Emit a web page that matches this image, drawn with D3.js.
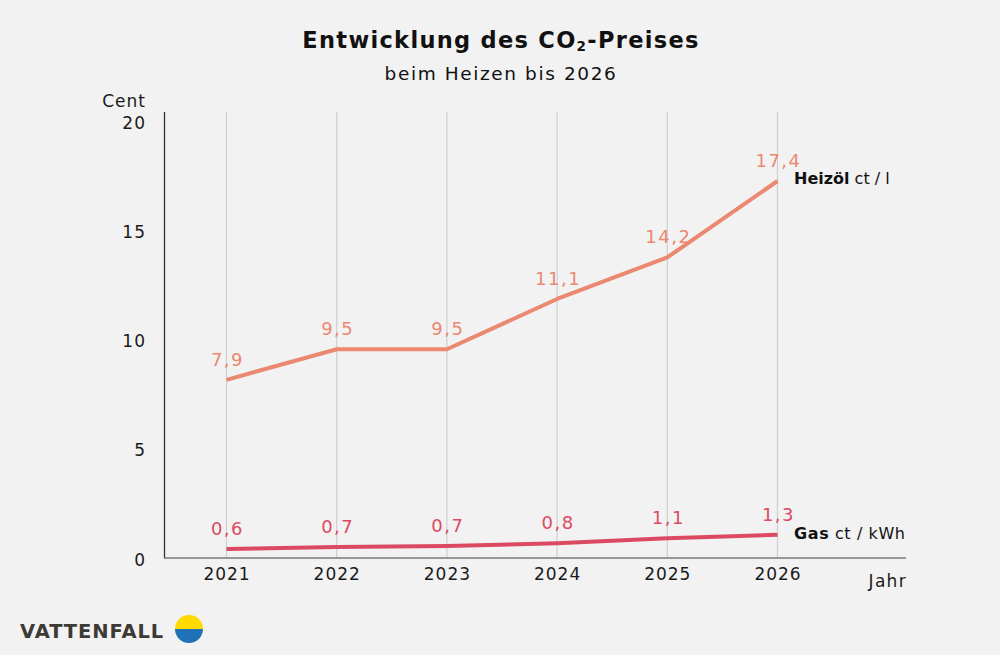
<!DOCTYPE html>
<html><head><meta charset="utf-8">
<script src="https://cdn.jsdelivr.net/npm/d3@7/dist/d3.min.js"></script>
<style>body{margin:0;background:#f2f2f2}svg{display:block}text{font-family:"DejaVu Sans",sans-serif}</style>
</head><body><svg id="c" width="1000" height="655"></svg>
<script>
const years = ["2021","2022","2023","2024","2025","2026"];
const heizoelValues = [8.2, 9.6, 9.6, 11.9, 13.8, 17.3];
const heizoelLabels = ["7,9","9,5","9,5","11,1","14,2","17,4"];
const gasValues = [0.46, 0.55, 0.6, 0.72, 0.95, 1.11];
const gasLabels = ["0,6","0,7","0,7","0,8","1,1","1,3"];
const yTicks = [0,5,10,15,20];

const FONT = "'DejaVu Sans',sans-serif";
const svg = d3.select("#c");
svg.append("rect").attr("width",1000).attr("height",655).attr("fill","#f2f2f2");

const x = d3.scalePoint().domain(years).range([226.5, 777.5]);
const y = d3.scaleLinear().domain([0,20]).range([559,122]);

// grid
svg.append("g").selectAll("line").data(years).join("line")
  .attr("x1",d=>x(d)).attr("x2",d=>x(d)).attr("y1",112).attr("y2",558)
  .attr("stroke","#cfcfcf").attr("stroke-width",1.2);

// axes lines
svg.append("line").attr("x1",164.5).attr("x2",164.5).attr("y1",112).attr("y2",558.5).attr("stroke","#333").attr("stroke-width",1.3);
svg.append("line").attr("x1",164).attr("x2",906).attr("y1",558).attr("y2",558).attr("stroke","#7a7a7a").attr("stroke-width",1.5);

// y tick labels
const yAxis = d3.axisLeft(y).tickValues(yTicks).tickSize(0).tickPadding(0);
const gy = svg.append("g").attr("transform","translate(146,0)").call(yAxis);
gy.select(".domain").remove();
gy.selectAll("text").attr("font-size",17).attr("fill","#1a1a1a").attr("font-family",FONT).attr("dy","0.36em").attr("letter-spacing",1);

svg.append("text").attr("x",146).attr("y",107).attr("text-anchor","end").attr("font-size",17).attr("letter-spacing",1).attr("fill","#1a1a1a").text("Cent");

// x tick labels
const xAxis = d3.axisBottom(x).tickSize(0).tickPadding(0);
const gx = svg.append("g").attr("transform","translate(0,568)").call(xAxis);
gx.select(".domain").remove();
gx.selectAll("text").attr("font-size",17).attr("fill","#1a1a1a").attr("font-family",FONT).attr("letter-spacing",1);
svg.append("text").attr("x",907).attr("y",587).attr("text-anchor","end").attr("font-size",17).attr("letter-spacing",1.3).attr("fill","#1a1a1a").text("Jahr");

const line = d3.line().x((d,i)=>x(years[i])).y(d=>y(d));
const series = [
  {vals:heizoelValues, labels:heizoelLabels, color:"#ea8870", name:"Heizöl", unit:" ct / l", ly:184},
  {vals:gasValues, labels:gasLabels, color:"#dc4a62", name:"Gas", unit:" ct / kWh", ly:539}
];
series.forEach(s=>{
  svg.append("path").attr("d",line(s.vals)).attr("fill","none").attr("stroke",s.color).attr("stroke-width",4).attr("stroke-linejoin","round");
  svg.append("g").selectAll("text").data(s.vals).join("text")
    .attr("x",(d,i)=>x(years[i])+1).attr("y",d=>y(d)-14).attr("text-anchor","middle")
    .attr("font-size",18).attr("letter-spacing",1.5).attr("fill",s.color).text((d,i)=>s.labels[i]);
  const t = svg.append("text").attr("x",794).attr("y",s.ly).attr("font-size",16).attr("fill","#111").attr("letter-spacing",s.name==="Gas"?0.6:0);
  t.append("tspan").attr("font-weight",700).text(s.name);
  t.append("tspan").text(s.unit);
});

// title
const title = svg.append("text").attr("x",501).attr("y",48).attr("text-anchor","middle").attr("font-size",22.5).attr("font-weight",700).attr("letter-spacing",1.3).attr("fill","#111");
title.append("tspan").text("Entwicklung des CO");
title.append("tspan").attr("font-size",13.5).attr("dy",3).text("2");
title.append("tspan").attr("dy",-3).text("-Preises");
svg.append("text").attr("x",501).attr("y",80).attr("text-anchor","middle").attr("font-size",18.5).attr("letter-spacing",1.6).attr("fill","#111").text("beim Heizen bis 2026");

// logo
svg.append("text").attr("x",20).attr("y",638).attr("font-size",19.5).attr("font-weight",900).attr("font-family","Inter,sans-serif").attr("fill","#3d3935").attr("letter-spacing",0.9).text("VATTENFALL");
const cx=189, cy=629, r=14;
svg.append("path").attr("d",`M${cx-r},${cy} A${r},${r} 0 0 1 ${cx+r},${cy} Z`).attr("fill","#ffda00");
svg.append("path").attr("d",`M${cx-r},${cy} A${r},${r} 0 0 0 ${cx+r},${cy} Z`).attr("fill","#2071b5");
</script></body></html>
